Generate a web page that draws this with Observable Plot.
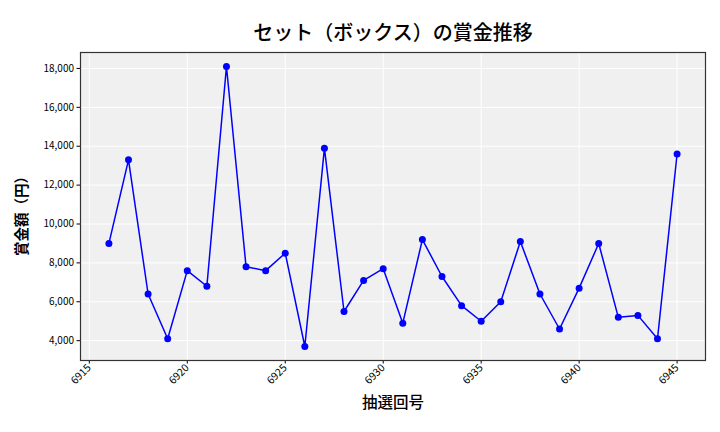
<!DOCTYPE html>
<html>
<head>
<meta charset="utf-8">
<script src="https://cdn.jsdelivr.net/npm/d3@7"></script>
<script src="https://cdn.jsdelivr.net/npm/@observablehq/plot@0.6"></script>
<style>
  html, body { margin: 0; padding: 0; background: #ffffff; }
  #chart svg { display: block; }
</style>
</head>
<body>
<div id="chart"></div>
<script>
const draws = [6916,6917,6918,6919,6920,6921,6922,6923,6924,6925,6926,6927,6928,6929,6930,6931,6932,6933,6934,6935,6936,6937,6938,6939,6940,6941,6942,6943,6944,6945];
const prizes = [9000,13300,6400,4100,7600,6800,18100,7800,7600,8500,3700,13900,5500,7100,7700,4900,9200,7300,5800,5000,6000,9100,6400,4600,6700,9000,5200,5300,4100,13600];
const xTicks = [6915,6920,6925,6930,6935,6940,6945];
const yTicks = [4000,6000,8000,10000,12000,14000,16000,18000];
const titleText = "セット（ボックス）の賞金推移";
const xLabel = "抽選回号";
const yLabel = "賞金額（円）";

const data = draws.map((d, i) => ({draw: d, prize: prizes[i]}));
const font = "'Noto Sans CJK JP', 'Noto Sans', sans-serif";

const chart = Plot.plot({
  width: 720,
  height: 432,
  marginLeft: 80,
  marginRight: 15,
  marginTop: 52,
  marginBottom: 72,
  style: {fontFamily: font, background: "#ffffff", color: "#000"},
  x: {domain: [6914.55, 6946.45]},
  y: {domain: [2980, 18820]},
  marks: [
    Plot.frame({fill: "#f0f0f0"}),
    Plot.gridX(xTicks, {stroke: "#ffffff", strokeOpacity: 1, strokeWidth: 1}),
    Plot.gridY(yTicks, {stroke: "#ffffff", strokeOpacity: 1, strokeWidth: 1}),
    Plot.axisX(xTicks, {tickFormat: d => String(d), tickRotate: -45, fontSize: 10.5, tickSize: 3.5, tickPadding: 2, label: null}),
    Plot.axisY(yTicks, {tickFormat: d3.format(","), fontSize: 10, tickSize: 3.5, tickPadding: 3, label: null}),
    Plot.line(data, {x: "draw", y: "prize", stroke: "#0000ff", strokeWidth: 1.5}),
    Plot.dot(data, {x: "draw", y: "prize", fill: "#0000ff", r: 3.5}),
    Plot.frame({stroke: "#333333", strokeWidth: 1.2}),
    Plot.text([titleText], {frameAnchor: "top", dy: -27, fontSize: 20, fontWeight: 500, fill: "#000"}),
    Plot.text([xLabel], {frameAnchor: "bottom", dy: 47, fontSize: 15.5, fontWeight: 500, fill: "#000"}),
    Plot.text([yLabel], {frameAnchor: "left", textAnchor: "middle", dx: -58, dy: 6, rotate: -90, fontSize: 14.5, fontWeight: "bold", fill: "#000"})
  ]
});
document.getElementById("chart").appendChild(chart);
</script>
</body>
</html>
